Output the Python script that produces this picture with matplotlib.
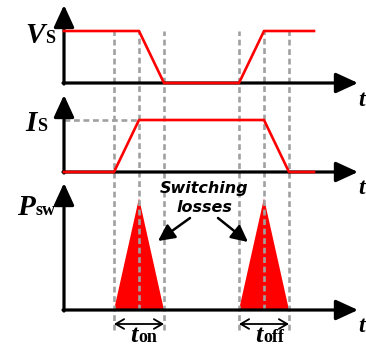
import matplotlib
matplotlib.use("Agg")
import matplotlib.pyplot as plt

# Switching instants (time units) and normalised waveform levels
t_vs = [0, 3, 4, 7, 8, 10]
v_vs = [1, 1, 0, 0, 1, 1]
t_is = [0, 2, 3, 8, 9, 10]
v_is = [0, 0, 1, 1, 0, 0]
t_turn_on = [2, 3, 4]
t_turn_off = [7, 8, 9]
p_turn_on = [0, 2.15, 0]
p_turn_off = [0, 2.15, 0]
guide_times = [2, 3, 4, 7, 8, 9]
interval_times = [(2, 4), (7, 9)]
interval_subs = ["on", "off"]
axis_names = [("V", "S"), ("I", "S"), ("P", "sw")]

W, H = 366, 347
X0, XS, YS = 64, 25.0, 52.0

fig = plt.figure(figsize=(W / 100, H / 100), dpi=100)
ax = fig.add_axes([0, 0, 1, 1])
ax.set_xlim(-X0 / XS, (W - X0) / XS)
ax.set_ylim(0, H / YS)
ax.axis("off")


def xd(p):
    return (p - X0) / XS


def yd(p):
    return (H - p) / YS


base = [yd(83), yd(172), yd(310)]
tops = [yd(5), yd(95), yd(183)]
t_end = xd(358)

SERIF = "Liberation Serif"
RED = "#ff0000"
GREY = "#a0a0a0"
dash = (0, (2.2, 1.4))

# switching loss triangles
ax.fill(t_turn_on, [base[2] + p for p in p_turn_on], color=RED, lw=0, zorder=1)
ax.fill(t_turn_off, [base[2] + p for p in p_turn_off], color=RED, lw=0, zorder=1)

# vertical guides through all three traces
for t in guide_times:
    lo = base[2] if t in (3, 8) else yd(330)
    ax.plot([t, t], [lo, base[0] + 1], color=GREY, lw=1.9, ls=dash, zorder=2)
ax.plot([0, 3], [base[1] + 1] * 2, color=GREY, lw=1.9, ls=dash, zorder=2)

# axes with arrow heads
ax_arrow = dict(arrowstyle="-|>,head_length=1.35,head_width=0.62", mutation_scale=10,
                lw=2.3, color="black", shrinkA=0, shrinkB=0)
for b, top in zip(base, tops):
    ax.annotate("", xy=(0, top), xytext=(0, b - 0.02), arrowprops=ax_arrow, zorder=3)
    ax.annotate("", xy=(t_end, b), xytext=(-0.04, b), arrowprops=ax_arrow, zorder=3)
    ax.text(xd(358), b - 17 / YS, "t", ha="left", va="center", family=SERIF,
            weight="bold", style="italic", size=17)

# voltage and current waveforms
ax.plot(t_vs, [base[0] + v for v in v_vs], color=RED, lw=1.9, zorder=4)
ax.plot(t_is, [base[1] + v for v in v_is], color=RED, lw=1.9, zorder=4)

# axis names
name_pos = [(45, 43), (37, 131), (35, 215)]
for (main, sub), (px, py) in zip(axis_names, name_pos):
    ax.text(xd(px), yd(py), main, ha="right", va="baseline", family=SERIF,
            weight="bold", style="italic", size=21)
    ax.text(xd(px + 0.5), yd(py), sub, ha="left", va="baseline", family=SERIF,
            weight="bold", size=13)

# annotation
ax.text(xd(204), yd(189), "Switching", ha="center", va="center", family="DejaVu Sans",
        weight="bold", style="italic", size=11.5)
ax.text(xd(204), yd(208), "losses", ha="center", va="center", family="DejaVu Sans",
        weight="bold", style="italic", size=11.5)
note_arrow = dict(arrowstyle="-|>,head_length=1.0,head_width=0.5", mutation_scale=10,
                  lw=1.8, color="black", shrinkA=0, shrinkB=0)
ax.annotate("", xy=(xd(158), yd(241)), xytext=(xd(190), yd(218)), arrowprops=note_arrow)
ax.annotate("", xy=(xd(248), yd(242)), xytext=(xd(218), yd(218)), arrowprops=note_arrow)

# switching intervals
span_arrow = dict(arrowstyle="<->,head_length=0.6,head_width=0.35", mutation_scale=10,
                  lw=1.3, color="black", shrinkA=0, shrinkB=0)
for (a, b), sub in zip(interval_times, interval_subs):
    ax.annotate("", xy=(a, yd(324)), xytext=(b, yd(324)), arrowprops=span_arrow)
    mid = (a + b) / 2
    ax.text(mid - 0.05, yd(342), "t", ha="right", va="baseline", family=SERIF,
            weight="bold", style="italic", size=19)
    ax.text(mid - 0.03, yd(342), sub, ha="left", va="baseline", family=SERIF,
            weight="bold", size=13)

fig.savefig("out.png", dpi=100)
